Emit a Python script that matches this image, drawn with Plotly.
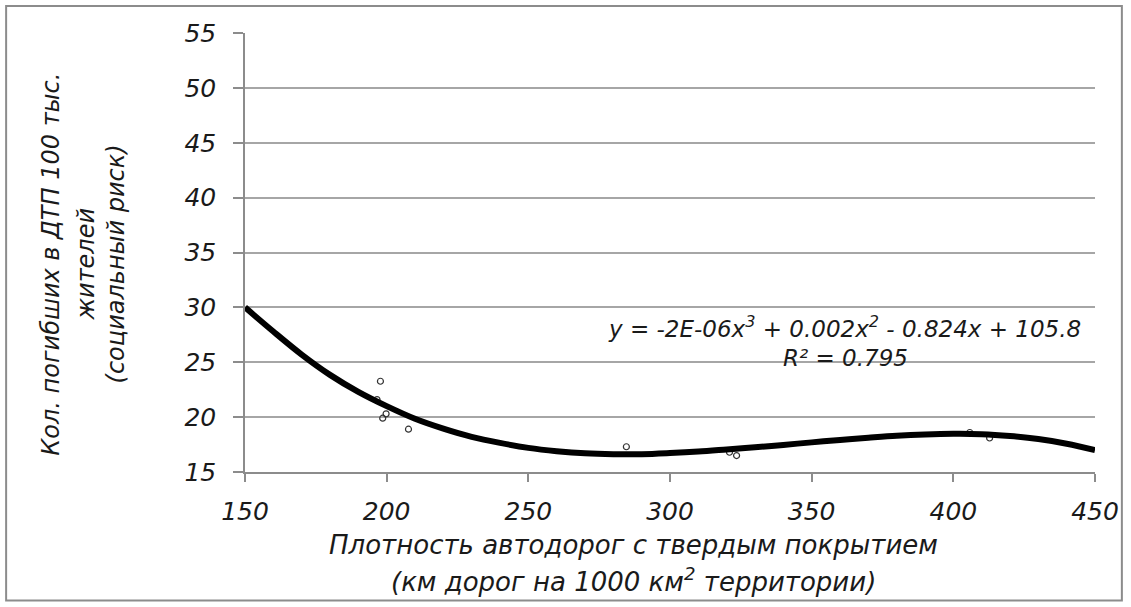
import plotly.graph_objects as go

# Scatter observations
pts_x = [197.8, 196.6, 198.6, 199.8, 207.7, 284.6, 321.0, 323.5, 405.8, 412.8]
pts_y = [23.27, 21.6, 19.9, 20.3, 18.9, 17.3, 16.8, 16.5, 18.6, 18.1]

# Trendline
curve_x = [150, 160, 170, 180, 190, 200, 210, 220, 230, 240, 250, 260, 270, 280, 290,
           300, 310, 320, 330, 340, 350, 360, 370, 380, 390, 400, 410, 420, 430, 440, 450]
curve_y = [30.0, 27.8, 25.7, 23.85, 22.3, 21.0, 19.85, 18.95, 18.2, 17.65, 17.2, 16.9, 16.7,
           16.62, 16.62, 16.72, 16.86, 17.05, 17.25, 17.47, 17.7, 17.92, 18.12, 18.3, 18.42,
           18.48, 18.45, 18.28, 18.0, 17.58, 17.0]

x_ticks = [150, 200, 250, 300, 350, 400, 450]
y_ticks = [15, 20, 25, 30, 35, 40, 45, 50, 55]

eq_text = "y = -2E-06x<sup>3</sup> + 0.002x<sup>2</sup> - 0.824x + 105.8"
r2_text = "R² = 0.795"
x_title = ["Плотность автодорог с твердым покрытием",
           "(км дорог на 1000 км<sup>2</sup> территории)"]
y_title = ["Кол. погибших в ДТП 100 тыс.", "жителей", "(социальный риск)"]

FONT = "DejaVu Sans"
TXT = "#1a1a1a"

fig = go.Figure()
fig.add_trace(go.Scatter(
    x=pts_x, y=pts_y, mode="markers",
    marker=dict(symbol="circle-open", size=6, color="#333333", line=dict(width=1.2)),
    showlegend=False, hoverinfo="skip"))
fig.add_trace(go.Scatter(
    x=curve_x, y=curve_y, mode="lines",
    line=dict(color="black", width=6, shape="spline", smoothing=1.0),
    showlegend=False, hoverinfo="skip"))

W, H = 1131, 607
L, R, T, B = 245, 1099, 33, 472.3
pw, ph = R - L, B - T

def px(xp):
    return (xp - L) / pw

def py(yp):
    return (B - yp) / ph

fig.update_layout(
    width=W, height=H,
    margin=dict(l=L, r=W - R, t=T, b=H - B),
    paper_bgcolor="white", plot_bgcolor="white",
    font=dict(family=FONT, color=TXT),
)
fig.update_xaxes(
    range=[150, 450], tickvals=x_ticks, showgrid=False, zeroline=False,
    showline=True, linecolor="#8c8c8c", linewidth=1.5,
    ticks="outside", ticklen=8, tickcolor="#8c8c8c", tickwidth=1.5,
    tickfont=dict(family=FONT, size=25, color=TXT, style="italic"),
    ticklabelstandoff=8,
)
fig.update_yaxes(
    range=[15, 55], tickvals=y_ticks, showgrid=True, gridcolor="#a6a6a6", gridwidth=1.5,
    zeroline=False, showline=True, linecolor="#8c8c8c", linewidth=1.5,
    ticks="outside", ticklen=10, tickcolor="#8c8c8c", tickwidth=1.5,
    tickfont=dict(family=FONT, size=25, color=TXT, style="italic"),
    ticklabelstandoff=12,
)

ann = []
ann.append(dict(x=px(847), y=py(327), xref="paper", yref="paper", text=eq_text,
                showarrow=False, font=dict(family=FONT, size=23, color=TXT, style="italic"),
                xanchor="center", yanchor="middle"))
ann.append(dict(x=px(848), y=py(358), xref="paper", yref="paper", text=r2_text,
                showarrow=False, font=dict(family=FONT, size=23, color=TXT, style="italic"),
                xanchor="center", yanchor="middle"))
for t, yy in zip(x_title, [545, 580]):
    ann.append(dict(x=px(635), y=py(yy), xref="paper", yref="paper", text=t,
                    showarrow=False, font=dict(family=FONT, size=26, color=TXT, style="italic"),
                    xanchor="center", yanchor="middle"))
for t, xx in zip(y_title, [50, 85, 115]):
    ann.append(dict(x=px(xx), y=py(264), xref="paper", yref="paper", text=t, textangle=-90,
                    showarrow=False, font=dict(family=FONT, size=24, color=TXT, style="italic"),
                    xanchor="center", yanchor="middle"))
fig.update_layout(annotations=ann)

fig.add_shape(type="rect", xref="paper", yref="paper",
              x0=px(5), x1=px(1126), y0=py(601), y1=py(6),
              line=dict(color="#8c8c8c", width=2), fillcolor="rgba(0,0,0,0)", layer="below")

fig.write_html("out.html")
